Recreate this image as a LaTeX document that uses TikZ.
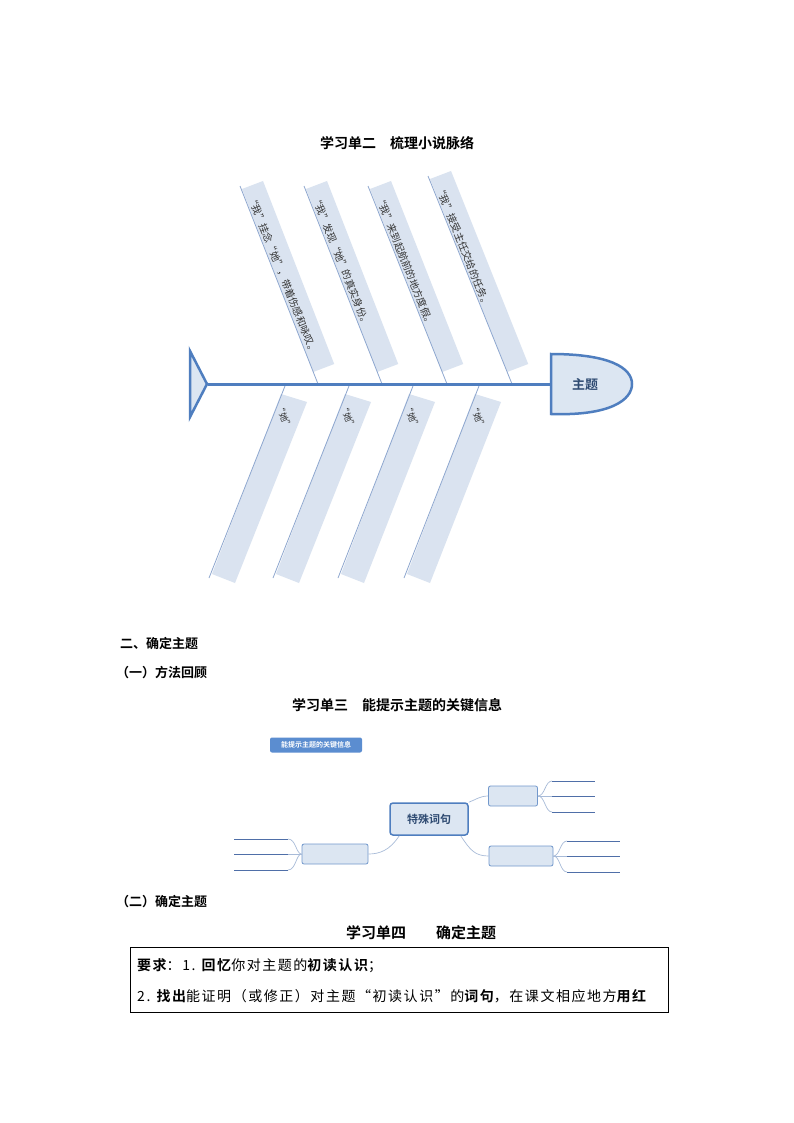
\documentclass[tikz,border=0pt]{standalone}
\usepackage{fontspec}
\setmainfont{Noto Sans CJK SC}
\newfontfamily\cjkb{Noto Sans CJK SC Bold}
\newfontfamily\boxr[LetterSpace=11]{Noto Sans CJK SC}
\newfontfamily\boxb[LetterSpace=11]{Noto Sans CJK SC Bold}
\definecolor{spine}{HTML}{4F7EBF}
\definecolor{stripf}{HTML}{DAE3F0}
\definecolor{stripl}{HTML}{8EA7CF}
\definecolor{headf}{HTML}{DCE6F2}
\definecolor{mmline}{HTML}{4F6FA8}
\definecolor{mmcurve}{HTML}{A8BBD8}
\definecolor{tagf}{HTML}{5B8DD0}
\tikzset{
 strip/.style={fill=stripf,draw=none},
 stripedge/.style={draw=stripl,line width=0.8pt},
 striptext/.style={font=\fontsize{10}{11}\selectfont,text=black!80,anchor=west,rotate=-68.2,inner sep=0pt},
 hd/.style={font=\cjkb\fontsize{14}{16}\selectfont,inner sep=0pt},
 mmbox/.style={draw=spine!80,fill=headf,rounded corners=2pt,line width=0.8pt},
 fan/.style={draw=mmline,line width=0.9pt},
 curv/.style={draw=mmcurve,line width=0.7pt}
}
\begin{document}
\begin{tikzpicture}[x=1pt,y=-1pt]
\useasboundingbox[fill=white] (0,0) rectangle (794,1123);
\node[hd] (t1) at (397,143) {学习单二\quad 梳理小说脉络};
% top strips
\foreach \tx/\bx/\txt [count=\i] in {240/318/{“我”挂念“她”，带着伤感和咏叹。},304/382/{“我”发现“她”的真实身份。},368/447/{“我”来到起航前的地方度假。},428/512/{“我”接受主任交给的任务。}}{
  \pgfmathsetmacro{\ty}{\i==4?176:186}
  \pgfmathsetmacro{\py}{372}
  \pgfmathsetmacro{\px}{\bx-(384-372)*0.4}
  \fill[strip] (\tx+2,\ty+3) -- ++(21,-8) -- (\px+21,\py-8) -- (\px,\py) -- cycle;
  \draw[stripedge] (\tx,\ty) coordinate (ts\i) -- (\bx,384) coordinate (tb\i);
  \node[striptext] (tt\i) at (\tx+11,\ty+10) {\txt};
}
% bottom strips
\foreach \tx/\bx [count=\i] in {285/209,349/273,413/338,479/404}{
  \fill[strip] (\tx-4,394) -- ++(26,8) -- (\bx+26,583) -- (\bx+3,574) -- cycle;
  \draw[stripedge] (\tx,386) coordinate (bs\i) -- (\bx,578) coordinate (be\i);
  \node[font=\fontsize{9}{10}\selectfont,text=black!80,rotate=-68.2,inner sep=0pt] (bt\i) at (\tx-1,417) {“她”};
}
% spine
\draw[spine,line width=3pt] (208,384) coordinate (tail) -- (551,384) coordinate (headL);
\draw[spine,line width=2.5pt,fill=headf] (190,351) -- (207,384) -- (190,417) -- cycle;
\draw[spine,line width=2.5pt,fill=headf] (551,354) -- (551,414) .. controls (610,416) and (632,400) .. (632,384) .. controls (632,368) and (610,354) .. (551,354) -- cycle;
\node[font=\cjkb\fontsize{13}{14}\selectfont,text=spine!60!black] (head) at (585,385) {主题};
% section texts
\node[hd,anchor=west,font=\cjkb\fontsize{13}{15}\selectfont] (s2) at (120,643) {二、确定主题};
\node[hd,anchor=west,font=\cjkb\fontsize{13}{15}\selectfont] (s21) at (116,673) {（一）方法回顾};
\node[hd] (t3) at (397,705) {学习单三\quad 能提示主题的关键信息};
% mind map
\node[fill=tagf,rounded corners=2pt,text=white,font=\cjkb\fontsize{7}{8}\selectfont,minimum width=92pt,minimum height=15pt,inner sep=1pt] (tag) at (316,745) {能提示主题的关键信息};
\node[draw=spine,fill=headf,rounded corners=3pt,line width=1.5pt,minimum width=78pt,minimum height=32pt,font=\cjkb\fontsize{11}{12}\selectfont,text=spine!60!black] (c) at (429,819) {特殊词句};
\node[mmbox,minimum width=49pt,minimum height=20pt] (r1) at (513,796) {};
\node[mmbox,minimum width=64pt,minimum height=20pt] (r2) at (521,856) {};
\node[mmbox,minimum width=66pt,minimum height=20pt] (l1) at (335,854) {};
\draw[curv] (c.north east) .. controls (475,800) and (480,796) .. (r1.west);
\draw[curv] (c.south east) ++(-8,0) .. controls (470,850) and (475,856) .. (r2.west);
\draw[curv] (c.south west) ++(10,0) .. controls (390,850) and (380,854) .. (l1.east);
\foreach \y/\n in {781/a,797/b,812/c}{\coordinate (r1\n) at (595,\y);}
\draw[curv] (r1.east) .. controls (545,796) and (545,781) .. (552,781);
\draw[curv] (r1.east) .. controls (545,796) and (545,812) .. (552,812);
\draw[curv] (r1.east) -- (552,796);
\draw[fan] (552,781) -- (r1a); \draw[fan] (552,796) -- (595,796); \draw[fan] (552,812) -- (r1c);
\foreach \y/\n in {841/a,857/b,872/c}{\coordinate (r2\n) at (620,\y);}
\draw[curv] (r2.east) .. controls (560,856) and (560,841) .. (567,841);
\draw[curv] (r2.east) .. controls (560,856) and (560,872) .. (567,872);
\draw[curv] (r2.east) -- (567,856);
\draw[fan] (567,841) -- (r2a); \draw[fan] (567,856) -- (620,856); \draw[fan] (567,872) -- (r2c);
\foreach \y/\n in {839/a,855/b,870/c}{\coordinate (l1\n) at (234,\y);}
\draw[curv] (l1.west) .. controls (296,854) and (296,839) .. (288,839);
\draw[curv] (l1.west) .. controls (296,854) and (296,870) .. (288,870);
\draw[curv] (l1.west) -- (288,854);
\draw[fan] (288,839) -- (l1a); \draw[fan] (288,854) -- (234,854); \draw[fan] (288,870) -- (l1c);
% part two
\node[hd,anchor=west,font=\cjkb\fontsize{13}{15}\selectfont] (s22) at (116,902) {（二）确定主题};
\node[hd,font=\cjkb\fontsize{15}{17}\selectfont] (t4) at (421,933) {学习单四\qquad 确定主题};
\draw[line width=0.8pt] (130,947) rectangle (668,1012);
\node[anchor=west,inner sep=0pt,font=\boxr\fontsize{14}{16}\selectfont] (l1t) at (137,966) {{\boxb 要求}：1. {\boxb 回忆}你对主题的{\boxb 初读认识}；};
\node[anchor=west,inner sep=0pt,font=\boxr\fontsize{14}{16}\selectfont] (l2t) at (137,996) {2. {\boxb 找出}能证明（或修正）对主题“初读认识”的{\boxb 词句}，在课文相应地方{\boxb 用红}};
\end{tikzpicture}
\end{document}
